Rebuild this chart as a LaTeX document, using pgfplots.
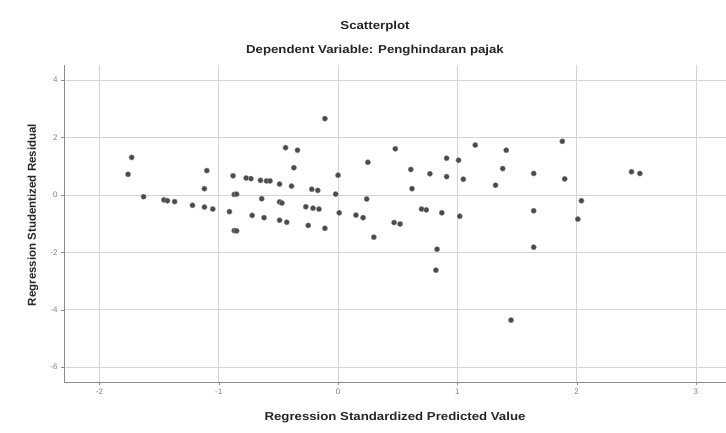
\documentclass[border=0pt]{standalone}
\usepackage{pgfplots}
\pgfplotsset{compat=1.18}
\usepackage{fontspec}
\setmainfont{Liberation Sans}
\definecolor{gridc}{HTML}{D4D4D4}
\definecolor{axc}{HTML}{8C8C8C}
\definecolor{dotc}{HTML}{4A4A4A}
\definecolor{txtc}{HTML}{262626}
\begin{document}
\begin{tikzpicture}
\useasboundingbox (0,0) rectangle (726pt,433pt);
\begin{axis}[
  at={(64pt,51pt)}, anchor=south west,
  scale only axis, width=662pt, height=317pt,
  xmin=-2.297, xmax=3.252, ymin=-6.516, ymax=4.53,
  xtick={-2,-1,0,1,2,3}, ytick={-6,-4,-2,0,2,4},
  axis lines=left, axis line style={-, axc, line width=0.8pt},
  grid=major, major grid style={gridc, line width=0.7pt},
  tick style={axc}, major tick length=3pt, tick align=outside,
  ticklabel style={font=\fontsize{8}{9}\selectfont, text=gray},
  /pgf/number format/assume math mode=true,
  clip=false,
]
\addplot[only marks, mark=*, mark size=2.7pt, mark options={fill=dotc, draw=gray!80}] coordinates {
(-1.73,1.31) (-1.76,0.72) (-1.63,-0.06) (-1.46,-0.17) (-1.43,-0.20) (-1.37,-0.23)
(-1.22,-0.36) (-1.12,-0.42) (-1.05,-0.49) (-1.10,0.85) (-1.12,0.22)
(-0.88,0.67) (-0.87,0.02) (-0.85,0.03) (-0.91,-0.58) (-0.87,-1.24) (-0.85,-1.25)
(-0.77,0.59) (-0.73,0.57) (-0.65,0.51) (-0.60,0.49) (-0.57,0.49) (-0.64,-0.13)
(-0.72,-0.71) (-0.62,-0.79) (-0.49,0.38) (-0.49,-0.24) (-0.47,-0.28) (-0.49,-0.88)
(-0.43,-0.95) (-0.44,1.65) (-0.34,1.56) (-0.37,0.95) (-0.39,0.31) (-0.11,2.66)
(-0.22,0.20) (-0.17,0.16) (-0.27,-0.41) (-0.21,-0.46) (-0.16,-0.49) (-0.25,-1.06)
(-0.11,-1.16) (0.00,0.69) (-0.02,0.03) (0.01,-0.62) (0.15,-0.70) (0.21,-0.79)
(0.25,1.14) (0.24,-0.14) (0.30,-1.47) (0.48,1.61) (0.47,-0.96) (0.52,-1.01)
(0.61,0.89) (0.62,0.22) (0.70,-0.49) (0.74,-0.52) (0.77,0.74) (0.87,-0.62)
(0.83,-1.89) (0.82,-2.62) (0.91,1.28) (0.91,0.64) (1.01,1.21) (1.05,0.55)
(1.02,-0.74) (1.15,1.74) (1.32,0.34) (1.41,1.56) (1.38,0.92) (1.64,0.75)
(1.64,-0.55) (1.64,-1.82) (1.88,1.87) (1.90,0.56) (2.04,-0.20) (2.01,-0.84)
(2.46,0.81) (2.53,0.75) (1.45,-4.36)
};
\end{axis}
\node[font=\bfseries\fontsize{11.5}{13}\selectfont, text=txtc, xscale=1.15] at (375pt,406pt) {Scatterplot};
\node[font=\bfseries\fontsize{11.5}{13}\selectfont, text=txtc, xscale=1.15] at (375pt,382pt) {Dependent Variable: Penghindaran pajak};
\node[font=\bfseries\fontsize{11.5}{13}\selectfont, text=txtc, xscale=1.15] at (395pt,15pt) {Regression Standardized Predicted Value};
\node[font=\bfseries\fontsize{11.5}{13}\selectfont, text=txtc, rotate=90] at (33pt,218pt) {Regression Studentized Residual};
\end{tikzpicture}
\end{document}
